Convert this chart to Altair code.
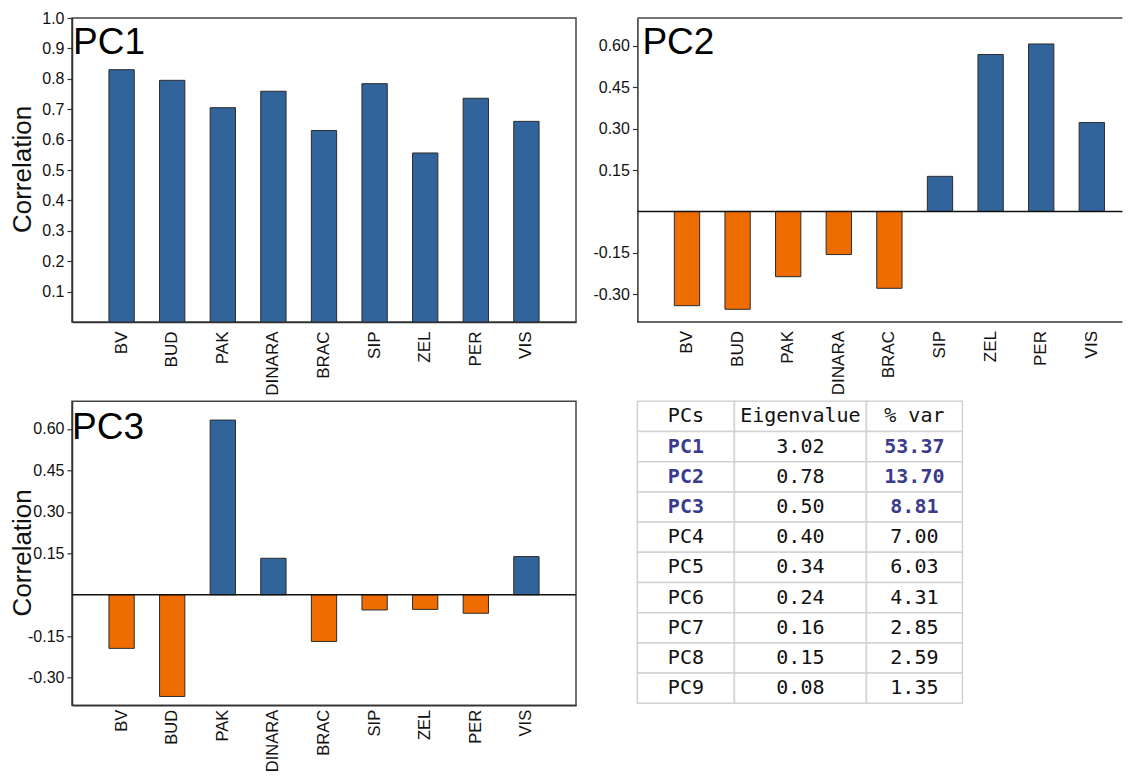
import altair as alt
import pandas as pd

# ---------------- data ----------------
sites = ["BV", "BUD", "PAK", "DINARA", "BRAC", "SIP", "ZEL", "PER", "VIS"]
pc1_corr = [0.830, 0.795, 0.705, 0.759, 0.630, 0.784, 0.556, 0.736, 0.660]
pc2_corr = [-0.341, -0.354, -0.236, -0.156, -0.278, 0.127, 0.568, 0.606, 0.322]
pc3_corr = [-0.194, -0.368, 0.632, 0.132, -0.169, -0.055, -0.053, -0.067, 0.138]

pc_names = ["PC1", "PC2", "PC3", "PC4", "PC5", "PC6", "PC7", "PC8", "PC9"]
eigenvalues = [3.02, 0.78, 0.50, 0.40, 0.34, 0.24, 0.16, 0.15, 0.08]
pct_var = [53.37, 13.70, 8.81, 7.00, 6.03, 4.31, 2.85, 2.59, 1.35]
table_header = ["PCs", "Eigenvalue", "% var"]
highlighted = ["PC1", "PC2", "PC3"]

pc1_ticks = [0.1, 0.2, 0.3, 0.4, 0.5, 0.6, 0.7, 0.8, 0.9, 1.0]
pc23_ticks = [-0.30, -0.15, 0.15, 0.30, 0.45, 0.60]

# ---------------- style ----------------
BLUE = "#31649b"
ORANGE = "#ef6c00"
HL = "#3b3b8c"
GRID = "#d2d2d2"
FRAME = "#444444"
W, H = 504, 304
W2 = 485          # visible part of PC2 (the reference is cut at the right edge)
SANS = "Liberation Sans"
MONO = "DejaVu Sans Mono"
COL_W = [97, 132, 96]
TABLE_H = 302


def panel(name, values, domain, ticks, fmt, ytitle, label_dx, label_dy, zero_line,
          view_w=W, cut_right=False, xlab_size=17, xlab_pad=9):
    df = pd.DataFrame({"site": sites, "value": values})
    label_expr = (
        f"datum.value < 0 ? '-' + format(-datum.value, '{fmt}') : format(datum.value, '{fmt}')"
    )
    axis_kwargs = dict(
        values=ticks, labelExpr=label_expr, grid=False, tickSize=5,
        labelPadding=3, labelFontSize=16, labelFont=SANS, labelColor="#111111",
    )
    if ytitle:
        axis_kwargs.update(
            title=ytitle, titleFontSize=26, titleFont=SANS, titleFontWeight="normal",
            titleColor="#111111", titleAngle=270, titleX=-41.6, titleY=151,
            titleAlign="center", titleBaseline="alphabetic",
        )
    else:
        axis_kwargs.update(title=None)
    yscale = alt.Scale(domain=domain, nice=False, zero=True)

    xscale_kwargs = dict(paddingInner=0.5, paddingOuter=0.73)
    if cut_right:
        xscale_kwargs["range"] = [0, W]
    xscale = alt.Scale(**xscale_kwargs)

    if cut_right:
        xaxis = None
    else:
        xaxis = alt.Axis(title=None, labelAngle=270, ticks=False, tickSize=0,
                         labelPadding=xlab_pad, labelFontSize=xlab_size, labelFont=SANS,
                         labelColor="#111111")

    bars = alt.Chart(df).mark_bar(stroke="#2b2b2b", strokeWidth=1).encode(
        x=alt.X("site:N", sort=sites, scale=xscale, axis=xaxis),
        y=alt.Y("value:Q", scale=yscale, axis=alt.Axis(**axis_kwargs)),
        color=alt.condition(alt.datum.value >= 0, alt.value(BLUE), alt.value(ORANGE)),
    )
    layers = [bars]
    if zero_line:
        rule = alt.Chart(pd.DataFrame({"value": [0.0]})).mark_rule(
            color="#111111", strokeWidth=1.5
        ).encode(y=alt.Y("value:Q", scale=yscale, axis=alt.Axis(**axis_kwargs)))
        layers.append(rule)
    if cut_right:
        edge = pd.DataFrame({"e": [0]})
        layers.append(alt.Chart(edge).mark_rule(color=FRAME, strokeWidth=1.5).encode(
            x=alt.value(0), x2=alt.value(view_w), y=alt.value(0)))
        layers.append(alt.Chart(edge).mark_rule(color="#333333", strokeWidth=1.5).encode(
            x=alt.value(0), x2=alt.value(view_w), y=alt.value(H)))
        # category labels drawn as text through the same band scale
        layers.append(alt.Chart(df).mark_text(
            angle=270, align="right", baseline="middle", fontSize=xlab_size,
            font=SANS, color="#111111"
        ).encode(
            x=alt.X("site:N", sort=sites, scale=xscale, axis=None),
            y=alt.value(H + xlab_pad),
            text="site:N",
        ))
    label = alt.Chart(pd.DataFrame({"name": [name]})).mark_text(
        align="left", baseline="alphabetic", fontSize=37, font=SANS, color="#000000"
    ).encode(x=alt.value(label_dx), y=alt.value(label_dy), text="name:N")
    layers.append(label)
    props = dict(width=view_w, height=H)
    if cut_right:
        props["view"] = alt.ViewBackground(strokeOpacity=0)
    return alt.layer(*layers).properties(**props)


p1 = panel("PC1", pc1_corr, [0, 1.0], pc1_ticks, ".1f", "Correlation", 1, 36, False)
p2 = panel("PC2", pc2_corr, [-0.4, 0.7], pc23_ticks, ".2f", None, 5, 36, True,
           view_w=W2, cut_right=True)
p3 = panel("PC3", pc3_corr, [-0.4, 0.7], pc23_ticks, ".2f", "Correlation", 0, 38, True,
           xlab_size=16.5, xlab_pad=4)

# ---------------- table (single layered chart) ----------------
tdf = pd.DataFrame({
    "row": list(range(10)),
    "c1": [table_header[0]] + pc_names,
    "c2": [table_header[1]] + [f"{v:.2f}" for v in eigenvalues],
    "c3": [table_header[2]] + [f"{v:.2f}" for v in pct_var],
    "hl": [False] + [n in highlighted for n in pc_names],
})

y_row = alt.Y("row:O", axis=None, scale=alt.Scale(paddingInner=0, paddingOuter=0))
table_layers = []
left = 0
for field, w, use_hl in [("c1", COL_W[0], True), ("c2", COL_W[1], False), ("c3", COL_W[2], True)]:
    base = alt.Chart(tdf)
    table_layers.append(
        base.mark_rect(fill="white", stroke=GRID, strokeWidth=1.5).encode(
            y=y_row, x=alt.value(left), x2=alt.value(left + w))
    )
    normal_src = base.transform_filter("!datum.hl") if use_hl else base
    table_layers.append(
        normal_src.mark_text(font=MONO, fontSize=20, align="center", baseline="middle",
                             color="#111111").encode(
            y=y_row, x=alt.value(left + w / 2), text=f"{field}:N")
    )
    if use_hl:
        table_layers.append(
            base.transform_filter("datum.hl").mark_text(
                font=MONO, fontSize=20, fontWeight="bold", align="center",
                baseline="middle", color=HL).encode(
                y=y_row, x=alt.value(left + w / 2), text=f"{field}:N")
        )
    left += w

table = alt.layer(*table_layers).properties(
    width=sum(COL_W), height=TABLE_H, view=alt.ViewBackground(strokeOpacity=0)
)

grid = alt.concat(
    p1, p2, p3, table, columns=2,
    spacing={"row": 79.3, "column": 61.4}, bounds="flush",
)

chart = grid.properties(
    padding={"left": 0, "top": 1, "right": 0, "bottom": 0},
    background="white",
).configure_view(
    stroke=FRAME, strokeWidth=1.5
).configure_axis(
    domainColor="#333333", domainWidth=1.5, tickColor="#333333", tickWidth=1.2
)

chart.save("out.html", embed_options={"renderer": "svg", "actions": False})
